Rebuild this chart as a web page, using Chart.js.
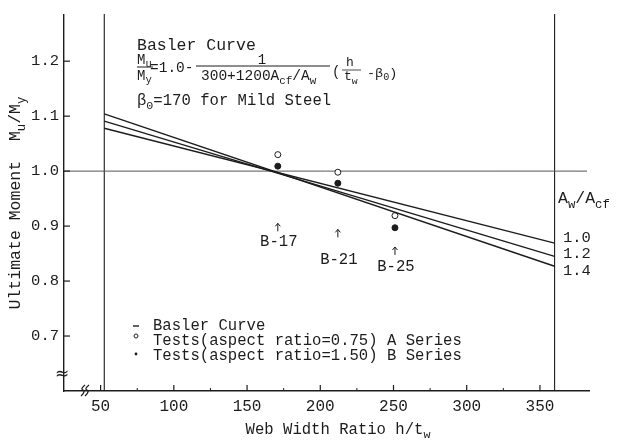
<!DOCTYPE html>
<html>
<head>
<meta charset="utf-8">
<script src="https://cdn.jsdelivr.net/npm/chart.js@4.4.1/dist/chart.umd.min.js"></script>
<style>
  html, body { margin: 0; padding: 0; background: #fff; }
  #wrap { width: 619px; height: 441px; }
</style>
</head>
<body>
<div id="wrap"><canvas id="chart"></canvas></div>
<script>
// Basler curve, end points (h/tw -> Mu/My) for each Aw/Acf
const webRatio = [52.5, 360];
const areaRatios = ['1.0', '1.2', '1.4'];
const basler10 = [1.078, 0.869];
const basler12 = [1.091, 0.845];
const basler14 = [1.104, 0.827];
const areaLabelY = [0.879, 0.849, 0.819];

// test results
const testNames = ['B-17', 'B-21', 'B-25'];
const testRatio = [171, 212, 251];
const seriesA = [1.030, 0.998, 0.919];   // aspect ratio 0.75, open
const seriesB = [1.009, 0.978, 0.897];   // aspect ratio 1.50, filled
const arrowTipY = [0.905, 0.894, 0.862];
const testLabelY = [0.871, 0.838, 0.825];

const xTicks = [50, 100, 150, 200, 250, 300, 350];
const xMinorTicks = [75, 125, 175, 225, 275, 325];
const yTicks = [0.7, 0.8, 0.9, 1.0, 1.1, 1.2];
const refY = 1.0;

const FONT = '"Liberation Mono", "Courier New", monospace';
const INK = '#1c1c1c';

function pts(xs, ys) {
  return xs.map((x, i) => ({ x: x, y: ys[i] }));
}

// draw text made of runs, some of them subscripts
function runsWidth(ctx, runs, size) {
  let w = 0;
  runs.forEach(([t, sub]) => {
    ctx.font = (sub ? size * 0.75 : size) + 'px ' + FONT;
    w += ctx.measureText(t).width;
  });
  return w;
}
function drawRuns(ctx, x, y, runs, size) {
  let cx = x;
  ctx.textAlign = 'left';
  ctx.textBaseline = 'middle';
  runs.forEach(([t, sub]) => {
    const s = sub ? size * 0.75 : size;
    ctx.font = s + 'px ' + FONT;
    ctx.fillText(t, cx, y + (sub ? size * 0.32 : 0));
    cx += ctx.measureText(t).width;
  });
  return cx;
}
function line(ctx, x1, y1, x2, y2, w) {
  ctx.lineWidth = w || 1;
  ctx.beginPath();
  ctx.moveTo(x1, y1);
  ctx.lineTo(x2, y2);
  ctx.stroke();
}

const backdrop = {
  id: 'backdrop',
  beforeDatasetsDraw(chart) {
    const { ctx, chartArea: a, scales: { x, y } } = chart;
    ctx.save();
    ctx.strokeStyle = INK;
    webRatio.forEach(v => line(ctx, x.getPixelForValue(v), a.top - 1, x.getPixelForValue(v), a.bottom, 1.1));
    ctx.strokeStyle = '#555';
    const py = y.getPixelForValue(refY);
    line(ctx, a.left, py, a.right - 2, py, 1);
    ctx.restore();
  },
  afterDraw(chart) {
    const { ctx, chartArea: a, scales: { x, y } } = chart;
    ctx.save();
    ctx.strokeStyle = INK;
    ctx.fillStyle = INK;

    // inward tick marks
    yTicks.forEach(v => line(ctx, a.left, y.getPixelForValue(v), a.left + 6, y.getPixelForValue(v), 1.2));
    xTicks.forEach(v => line(ctx, x.getPixelForValue(v), a.bottom, x.getPixelForValue(v), a.bottom - 6, 1.2));
    xMinorTicks.forEach(v => line(ctx, x.getPixelForValue(v), a.bottom, x.getPixelForValue(v), a.bottom - 3, 1));

    // axis breaks
    ctx.font = '17px "DejaVu Sans"';
    ctx.textAlign = 'center';
    ctx.textBaseline = 'middle';
    ctx.fillText('\u2248', a.left - 2, a.bottom - 16);
    ctx.lineWidth = 1.2;
    [0, 4].forEach(d => {
      ctx.beginPath();
      ctx.moveTo(a.left + 17 + d, a.bottom + 5);
      ctx.quadraticCurveTo(a.left + 22 + d, a.bottom, a.left + 19 + d, a.bottom - 1);
      ctx.quadraticCurveTo(a.left + 16 + d, a.bottom - 2, a.left + 21 + d, a.bottom - 6);
      ctx.stroke();
    });

    // axis titles
    ctx.fillStyle = INK;
    const xt = [['Web Width Ratio h/t', 0], ['w', 1]];
    drawRuns(ctx, 338 - runsWidth(ctx, xt, 15.6) / 2, 430, xt, 15.6);
    const yt = [['Ultimate Moment  M', 0], ['u', 1], ['/M', 0], ['y', 1]];
    ctx.save();
    ctx.translate(16, 203);
    ctx.rotate(-Math.PI / 2);
    drawRuns(ctx, -runsWidth(ctx, yt, 16.5) / 2, 0, yt, 16.5);
    ctx.restore();

    // formula block
    drawRuns(ctx, 137, 46, [['Basler Curve', 0]], 16.5);
    drawRuns(ctx, 137, 60, [['M', 0], ['u', 1]], 14);
    line(ctx, 137, 67, 153, 67, 1);
    drawRuns(ctx, 137, 76, [['M', 0], ['y', 1]], 14);
    drawRuns(ctx, 150, 68, [['=1.0-', 0]], 14.5);
    ctx.font = '14px ' + FONT;
    ctx.textAlign = 'center';
    ctx.fillText('1', 262, 60);
    line(ctx, 196, 66, 330, 66, 1);
    drawRuns(ctx, 201, 76, [['300+1200A', 0], ['cf', 1], ['/A', 0], ['w', 1]], 14.5);
    drawRuns(ctx, 332, 72, [['(', 0]], 14);
    ctx.font = '13px ' + FONT;
    ctx.textAlign = 'center';
    ctx.fillText('h', 350, 63);
    line(ctx, 342, 70, 361, 70, 0.8);
    drawRuns(ctx, 344, 77, [['t', 0], ['w', 1]], 13);
    drawRuns(ctx, 367, 73, [['-\u03b2', 0], ['0', 1], [')', 0]], 13.5);
    drawRuns(ctx, 137, 101, [['\u03b2', 0], ['0', 1], ['=170 for Mild Steel', 0]], 15.6);

    // right side labels
    drawRuns(ctx, 558, 199, [['A', 0], ['w', 1], ['/A', 0], ['cf', 1]], 16.5);
    areaRatios.forEach((r, i) => drawRuns(ctx, 563, y.getPixelForValue(areaLabelY[i]), [[r, 0]], 15.5));

    // test labels with arrows
    testNames.forEach((n, i) => {
      const px = x.getPixelForValue(testRatio[i]);
      const tip = y.getPixelForValue(arrowTipY[i]);
      line(ctx, px, tip, px, tip + 8, 1);
      ctx.beginPath();
      ctx.moveTo(px - 2.5, tip + 3);
      ctx.lineTo(px, tip);
      ctx.lineTo(px + 2.5, tip + 3);
      ctx.stroke();
      ctx.font = '15.6px ' + FONT;
      ctx.textAlign = 'center';
      ctx.textBaseline = 'middle';
      ctx.fillText(n, px + 1, y.getPixelForValue(testLabelY[i]));
    });

    // legend
    line(ctx, 133, 326, 139, 326, 1.4);
    drawRuns(ctx, 153, 326, [['Basler Curve', 0]], 15.6);
    ctx.beginPath();
    ctx.arc(136, 336, 2, 0, Math.PI * 2);
    ctx.lineWidth = 1;
    ctx.stroke();
    drawRuns(ctx, 153, 341, [['Tests(aspect ratio=0.75) A Series', 0]], 15.6);
    ctx.beginPath();
    ctx.arc(136, 354, 1.4, 0, Math.PI * 2);
    ctx.fill();
    drawRuns(ctx, 153, 356, [['Tests(aspect ratio=1.50) B Series', 0]], 15.6);

    ctx.restore();
  }
};

const lineStyle = { showLine: true, pointRadius: 0, borderColor: INK, borderWidth: 1.4, fill: false };

new Chart(document.getElementById('chart'), {
  type: 'scatter',
  data: {
    datasets: [
      Object.assign({ label: 'Aw/Acf = ' + areaRatios[0], data: pts(webRatio, basler10) }, lineStyle),
      Object.assign({ label: 'Aw/Acf = ' + areaRatios[1], data: pts(webRatio, basler12) }, lineStyle),
      Object.assign({ label: 'Aw/Acf = ' + areaRatios[2], data: pts(webRatio, basler14) }, lineStyle),
      {
        label: 'Tests (aspect ratio=0.75) A Series',
        data: pts(testRatio, seriesA),
        pointRadius: 3, pointBackgroundColor: '#fff', pointBorderColor: INK, pointBorderWidth: 1
      },
      {
        label: 'Tests (aspect ratio=1.50) B Series',
        data: pts(testRatio, seriesB),
        pointRadius: 3, pointBackgroundColor: INK, pointBorderColor: INK, pointBorderWidth: 1
      }
    ]
  },
  options: {
    responsive: true,
    maintainAspectRatio: false,
    animation: false,
    layout: { padding: { top: 15, right: 30, left: 0, bottom: 0 } },
    plugins: { legend: { display: false }, tooltip: { enabled: false } },
    scales: {
      x: {
        type: 'linear',
        min: 25,
        max: 383.5,
        afterBuildTicks: s => { s.ticks = xTicks.map(v => ({ value: v })); },
        afterFit: s => { s.height = 50; },
        grid: { display: false, drawTicks: false },
        border: { display: true, color: INK, width: 1.4 },
        ticks: { color: INK, font: { family: FONT, size: 16 }, padding: 6, maxRotation: 0, autoSkip: false, callback: v => String(v) }
      },
      y: {
        type: 'linear',
        min: 0.6,
        max: 1.284,
        afterBuildTicks: s => { s.ticks = yTicks.map(v => ({ value: v })); },
        afterFit: s => { s.width = 64; },
        grid: { display: false, drawTicks: false },
        border: { display: true, color: INK, width: 1.4 },
        ticks: { color: INK, font: { family: FONT, size: 15.5 }, padding: 5, autoSkip: false, callback: v => v.toFixed(1) }
      }
    }
  },
  plugins: [backdrop]
});
</script>
</body>
</html>
